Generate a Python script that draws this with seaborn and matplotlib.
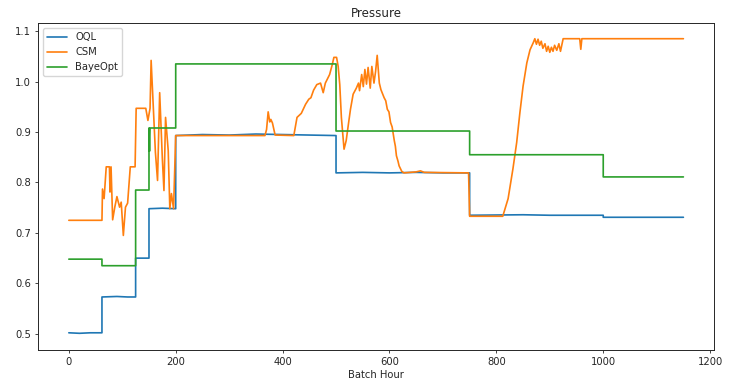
import matplotlib
matplotlib.use("Agg")
import matplotlib.pyplot as plt
import seaborn as sns

# values (batch hour, pressure)
oql_hour = [0, 20, 40, 62, 62, 90, 110, 125, 125, 150, 150, 175, 200, 200, 250, 300, 350, 400, 450, 500,
            500, 550, 600, 650, 700, 750, 750, 850, 900, 1000, 1000, 1150]
oql_val = [0.502, 0.501, 0.502, 0.502, 0.573, 0.574, 0.573, 0.573, 0.650, 0.650, 0.748, 0.749, 0.748, 0.893,
           0.895, 0.894, 0.896, 0.895, 0.894, 0.893, 0.819, 0.820, 0.819, 0.820, 0.819, 0.819, 0.735,
           0.736, 0.735, 0.735, 0.731, 0.731]

csm_hour = [0, 62, 63, 66, 70, 76, 77, 79, 82, 86, 90, 95, 98, 102, 106, 110, 115, 124, 126, 144,
            148, 152, 154, 162, 166, 170, 175, 178, 181, 186, 189, 192, 196, 200, 367, 370, 373, 376,
            378, 381, 386, 421, 427, 435, 443, 449, 453, 458, 464, 471, 476, 480, 488, 493, 496, 501,
            504, 507, 510, 515, 519, 524, 527, 532, 538, 542, 544, 548, 551, 554, 557, 560, 564, 567,
            571, 574, 577, 581, 584, 590, 593, 596, 599, 602, 605, 609, 611, 613, 616, 618, 623, 627,
            650, 658, 665, 748, 750, 812, 822, 831, 838, 844, 850, 857, 863, 869, 872, 875, 878, 881,
            884, 887, 891, 894, 897, 900, 903, 906, 909, 913, 917, 920, 925, 956, 958, 960, 1150]
csm_val = [0.725, 0.725, 0.787, 0.768, 0.831, 0.831, 0.781, 0.831, 0.726, 0.751, 0.772, 0.751, 0.761,
           0.695, 0.751, 0.759, 0.831, 0.831, 0.947, 0.947, 0.923, 0.947, 1.042, 0.860, 0.804, 0.978,
           0.847, 0.784, 0.929, 0.863, 0.748, 0.778, 0.748, 0.893, 0.893, 0.905, 0.940, 0.920, 0.925,
           0.918, 0.894, 0.893, 0.929, 0.937, 0.955, 0.965, 0.968, 0.983, 0.994, 0.997, 0.978, 0.997,
           1.014, 1.034, 1.048, 1.048, 1.030, 0.994, 0.929, 0.866, 0.883, 0.922, 0.945, 0.975, 0.987,
           0.997, 0.982, 1.014, 0.990, 1.024, 0.995, 1.028, 0.987, 1.030, 0.997, 1.020, 1.052, 0.997,
           0.984, 0.968, 0.962, 0.945, 0.940, 0.919, 0.910, 0.883, 0.872, 0.853, 0.842, 0.833, 0.822,
           0.819, 0.821, 0.823, 0.820, 0.819, 0.733, 0.733, 0.768, 0.827, 0.879, 0.938, 0.991, 1.037,
           1.063, 1.077, 1.085, 1.074, 1.084, 1.072, 1.080, 1.066, 1.075, 1.060, 1.070, 1.058, 1.068,
           1.060, 1.072, 1.062, 1.075, 1.060, 1.085, 1.085, 1.064, 1.085, 1.085]

bayes_hour = [0, 62, 62, 125, 125, 150, 150, 151, 152, 200, 200, 500, 500, 750, 750, 1000, 1000, 1150]
bayes_val = [0.648, 0.648, 0.635, 0.635, 0.785, 0.785, 0.908, 0.862, 0.908, 0.908, 1.035, 1.035,
             0.902, 0.902, 0.855, 0.855, 0.811, 0.811]

sns.set_style("ticks")
plt.rcParams["font.family"] = ["DejaVu Sans"]
plt.rcParams.update({
    "xtick.major.size": 2.5, "ytick.major.size": 2.5,
    "xtick.major.pad": 2.5, "ytick.major.pad": 2.5,
    "xtick.major.width": 0.6, "ytick.major.width": 0.6,
    "axes.linewidth": 0.7,
})
fs = 7.2

fig = plt.figure(figsize=(7.47, 3.91), dpi=100)
ax = fig.add_axes([0.051, 0.105, 0.905, 0.836])

series = [
    (oql_hour, oql_val, "OQL", "#1f77b4"),
    (csm_hour, csm_val, "CSM", "#ff7f0e"),
    (bayes_hour, bayes_val, "BayeOpt", "#2ca02c"),
]
for hours, vals, name, color in series:
    sns.lineplot(x=hours, y=vals, estimator=None, sort=False, label=name,
                 color=color, linewidth=1.2, ax=ax)

ax.set_ylim(0.468, 1.116)
ax.set_xticks([0, 200, 400, 600, 800, 1000, 1200])
ax.set_yticks([0.5, 0.6, 0.7, 0.8, 0.9, 1.0, 1.1])
ax.tick_params(labelsize=fs)
ax.set_title("Pressure", fontsize=8.6, pad=4.3)
ax.set_xlabel("Batch Hour", fontsize=fs, labelpad=2.5)
ax.set_ylabel("")
ax.legend(loc="upper left", fontsize=fs)

fig.savefig("out.png", dpi=100)
